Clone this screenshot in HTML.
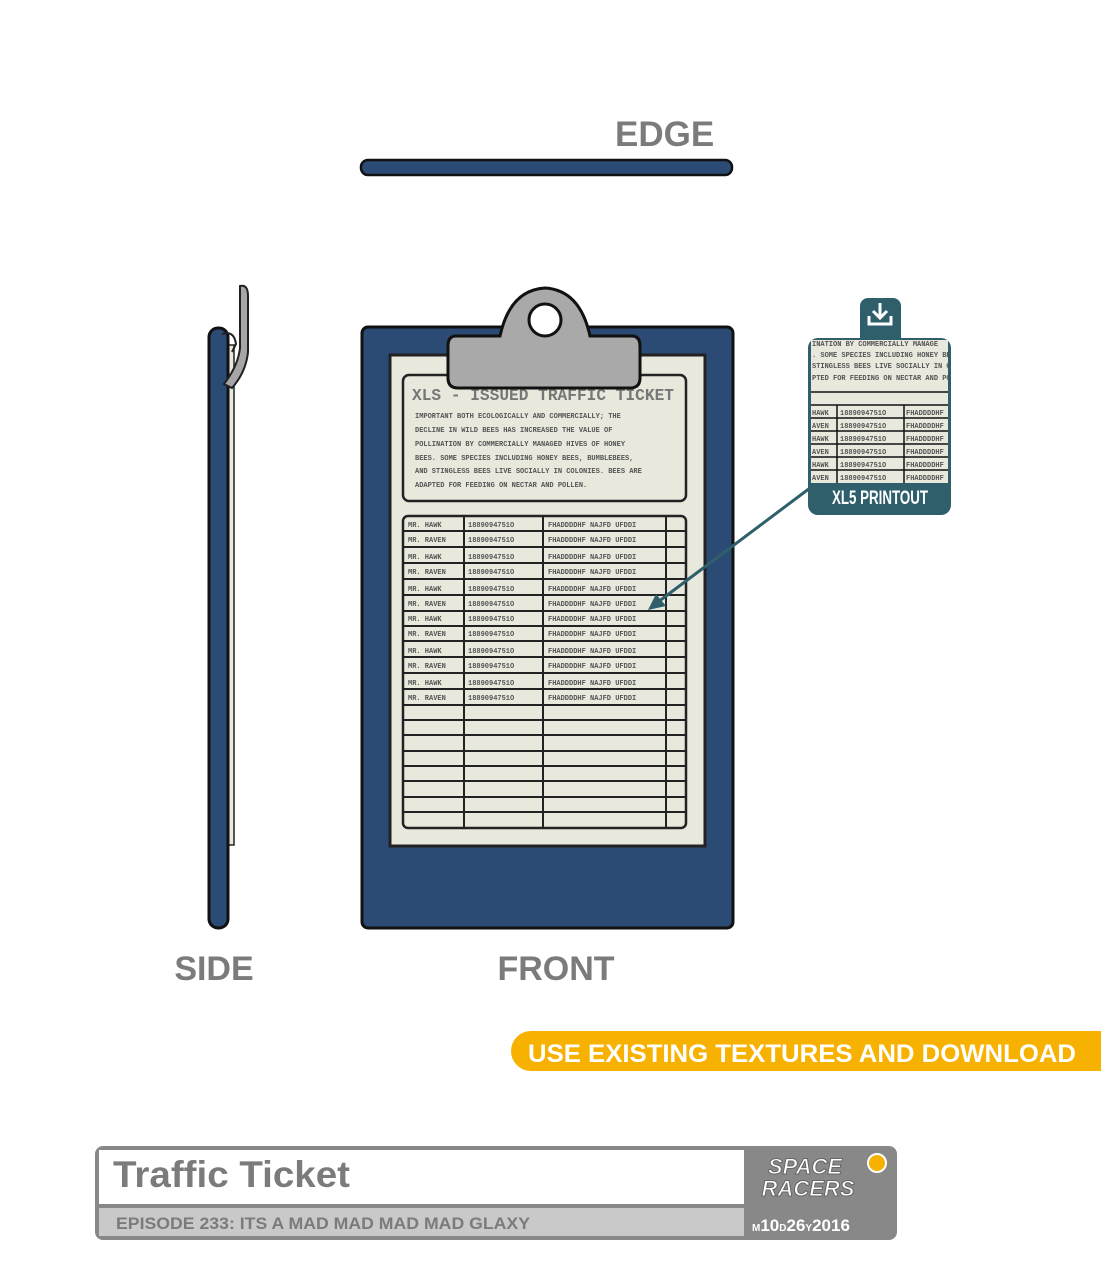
<!DOCTYPE html>
<html><head><meta charset="utf-8"><style>
body{margin:0;background:#fff;width:1101px;height:1277px;overflow:hidden}
svg{display:block}
.g{font-family:"Liberation Sans",sans-serif;font-weight:bold;fill:#7b7b7b}
.m{font-family:"Liberation Mono",monospace;font-weight:bold;fill:#555;font-size:7px}
</style></head><body>
<svg width="1101" height="1277" viewBox="0 0 1101 1277" xmlns="http://www.w3.org/2000/svg">
<defs><clipPath id="cp"><rect x="811" y="340" width="137" height="143"/></clipPath></defs>
<text x="615" y="146" class="g" font-size="35">EDGE</text>
<rect x="361" y="160" width="371" height="15" rx="7" fill="#2b4a74" stroke="#111" stroke-width="2.5"/>

<!-- side -->
<rect x="227" y="345" width="7" height="500" fill="#e8e8dd" stroke="#222" stroke-width="1.5"/>
<rect x="209" y="328" width="19" height="600" rx="9" fill="#2b4a74" stroke="#111" stroke-width="3"/>
<path d="M240 286 Q248 284 248 296 L248 352 Q246 372 232 388 L224 384 Q238 366 240 348 Z" fill="#a6a6a6" stroke="#222" stroke-width="2"/>
<path d="M222 334 Q234 330 236 344 L232 352" fill="none" stroke="#222" stroke-width="2"/>

<!-- front -->
<rect x="362" y="327" width="371" height="601" rx="6" fill="#2b4a74" stroke="#111" stroke-width="3"/>
<rect x="390" y="355" width="315" height="491" fill="#e8e8dd" stroke="#222" stroke-width="3"/>
<rect x="403" y="375" width="283" height="126" rx="6" fill="#e8e8dd" stroke="#222" stroke-width="2.5"/>
<text x="412" y="400" font-family="Liberation Mono,monospace" font-weight="bold" font-size="17" fill="#777" textLength="262" lengthAdjust="spacingAndGlyphs">XLS - ISSUED TRAFFIC TICKET</text>
<g class="m">
<text x="415" y="418">IMPORTANT BOTH ECOLOGICALLY AND COMMERCIALLY; THE</text>
<text x="415" y="432">DECLINE IN WILD BEES HAS INCREASED THE VALUE OF</text>
<text x="415" y="446">POLLINATION BY COMMERCIALLY MANAGED HIVES OF HONEY</text>
<text x="415" y="460">BEES. SOME SPECIES INCLUDING HONEY BEES, BUMBLEBEES,</text>
<text x="415" y="473">AND STINGLESS BEES LIVE SOCIALLY IN COLONIES. BEES ARE</text>
<text x="415" y="487">ADAPTED FOR FEEDING ON NECTAR AND POLLEN.</text>
</g>
<rect x="403" y="516" width="283" height="312" rx="5" fill="#e8e8dd" stroke="#222" stroke-width="2.5"/>
<g stroke="#222" stroke-width="2">
<line x1="464" y1="516" x2="464" y2="828"/><line x1="543" y1="516" x2="543" y2="828"/><line x1="666" y1="516" x2="666" y2="828"/>
<line x1="403" y1="531" x2="686" y2="531"/><line x1="403" y1="547" x2="686" y2="547"/><line x1="403" y1="563" x2="686" y2="563"/><line x1="403" y1="579" x2="686" y2="579"/><line x1="403" y1="595" x2="686" y2="595"/><line x1="403" y1="611" x2="686" y2="611"/><line x1="403" y1="626" x2="686" y2="626"/><line x1="403" y1="641" x2="686" y2="641"/><line x1="403" y1="657" x2="686" y2="657"/><line x1="403" y1="673" x2="686" y2="673"/><line x1="403" y1="689" x2="686" y2="689"/><line x1="403" y1="705" x2="686" y2="705"/><line x1="403" y1="720" x2="686" y2="720"/><line x1="403" y1="735" x2="686" y2="735"/><line x1="403" y1="751" x2="686" y2="751"/><line x1="403" y1="766" x2="686" y2="766"/><line x1="403" y1="781" x2="686" y2="781"/><line x1="403" y1="797" x2="686" y2="797"/><line x1="403" y1="812" x2="686" y2="812"/>
</g>
<g class="m">
<text x="408" y="527">MR. HAWK</text><text x="468" y="527">1889094751O</text><text x="548" y="527">FHADDDDHF NAJFD UFDDI</text>
<text x="408" y="542">MR. RAVEN</text><text x="468" y="542">1889094751O</text><text x="548" y="542">FHADDDDHF NAJFD UFDDI</text>
<text x="408" y="559">MR. HAWK</text><text x="468" y="559">1889094751O</text><text x="548" y="559">FHADDDDHF NAJFD UFDDI</text>
<text x="408" y="574">MR. RAVEN</text><text x="468" y="574">1889094751O</text><text x="548" y="574">FHADDDDHF NAJFD UFDDI</text>
<text x="408" y="591">MR. HAWK</text><text x="468" y="591">1889094751O</text><text x="548" y="591">FHADDDDHF NAJFD UFDDI</text>
<text x="408" y="606">MR. RAVEN</text><text x="468" y="606">1889094751O</text><text x="548" y="606">FHADDDDHF NAJFD UFDDI</text>
<text x="408" y="621">MR. HAWK</text><text x="468" y="621">1889094751O</text><text x="548" y="621">FHADDDDHF NAJFD UFDDI</text>
<text x="408" y="636">MR. RAVEN</text><text x="468" y="636">1889094751O</text><text x="548" y="636">FHADDDDHF NAJFD UFDDI</text>
<text x="408" y="653">MR. HAWK</text><text x="468" y="653">1889094751O</text><text x="548" y="653">FHADDDDHF NAJFD UFDDI</text>
<text x="408" y="668">MR. RAVEN</text><text x="468" y="668">1889094751O</text><text x="548" y="668">FHADDDDHF NAJFD UFDDI</text>
<text x="408" y="685">MR. HAWK</text><text x="468" y="685">1889094751O</text><text x="548" y="685">FHADDDDHF NAJFD UFDDI</text>
<text x="408" y="700">MR. RAVEN</text><text x="468" y="700">1889094751O</text><text x="548" y="700">FHADDDDHF NAJFD UFDDI</text>
</g>
<!-- clip -->
<path d="M456 336 L500 336 Q510 290 545 288 Q580 290 590 336 L632 336 Q640 336 640 346 L640 378 Q640 388 630 388 L458 388 Q448 388 448 378 L448 346 Q448 336 456 336 Z" fill="#a9a9a9" stroke="#111" stroke-width="3"/>
<circle cx="545" cy="320" r="16" fill="#fff" stroke="#111" stroke-width="3"/>

<!-- arrow -->
<line x1="810" y1="488" x2="658" y2="602" stroke="#2e5f6b" stroke-width="3"/>
<polygon points="648,610 656,594 666,606" fill="#2e5f6b"/>

<!-- callout -->
<rect x="860" y="298" width="41" height="50" rx="8" fill="#2e5f6b"/>
<path d="M880 303 L880 318 M873 311 L880 318 L887 311 M869 316 L869 324 L891 324 L891 316" fill="none" stroke="#fff" stroke-width="3"/>
<rect x="808" y="338" width="143" height="177" rx="10" fill="#2e5f6b"/>
<rect x="811" y="340" width="137" height="143" fill="#e8e8dd"/>
<g class="m" font-size="6" clip-path="url(#cp)">
<text x="812" y="346">INATION BY COMMERCIALLY MANAGE</text>
<text x="812" y="357">. SOME SPECIES INCLUDING HONEY BEE</text>
<text x="812" y="368">STINGLESS BEES LIVE SOCIALLY IN COL</text>
<text x="812" y="380">PTED FOR FEEDING ON NECTAR AND POLLE</text>
<text x="812" y="415">HAWK</text><text x="840" y="415">1889094751O</text><text x="906" y="415">FHADDDDHF</text>
<text x="812" y="428">AVEN</text><text x="840" y="428">1889094751O</text><text x="906" y="428">FHADDDDHF</text>
<text x="812" y="441">HAWK</text><text x="840" y="441">1889094751O</text><text x="906" y="441">FHADDDDHF</text>
<text x="812" y="454">AVEN</text><text x="840" y="454">1889094751O</text><text x="906" y="454">FHADDDDHF</text>
<text x="812" y="467">HAWK</text><text x="840" y="467">1889094751O</text><text x="906" y="467">FHADDDDHF</text>
<text x="812" y="480">AVEN</text><text x="840" y="480">1889094751O</text><text x="906" y="480">FHADDDDHF</text>
</g>
<g stroke="#111" stroke-width="1.5">
<line x1="811" y1="392" x2="948" y2="392"/><line x1="811" y1="405" x2="948" y2="405"/><line x1="811" y1="418" x2="948" y2="418"/><line x1="811" y1="431" x2="948" y2="431"/><line x1="811" y1="444" x2="948" y2="444"/><line x1="811" y1="457" x2="948" y2="457"/><line x1="811" y1="470" x2="948" y2="470"/>
<line x1="837" y1="405" x2="837" y2="483"/><line x1="904" y1="405" x2="904" y2="483"/>
</g>
<text x="880" y="504" text-anchor="middle" font-family="Liberation Sans Narrow,Liberation Sans,sans-serif" font-weight="bold" font-size="19" fill="#fff" textLength="96" lengthAdjust="spacingAndGlyphs">XL5 PRINTOUT</text>

<text x="214" y="980" text-anchor="middle" class="g" font-size="34">SIDE</text>
<text x="556" y="980" text-anchor="middle" class="g" font-size="34">FRONT</text>

<rect x="511" y="1031" width="620" height="40" rx="20" fill="#f7b100"/>
<text x="528" y="1062" font-family="Liberation Sans,sans-serif" font-weight="bold" font-size="25" fill="#fff" textLength="548" lengthAdjust="spacingAndGlyphs">USE EXISTING TEXTURES AND DOWNLOAD</text>

<!-- footer -->
<rect x="95" y="1146" width="802" height="94" rx="8" fill="#888"/>
<rect x="99" y="1150" width="645" height="54" fill="#fff"/>
<rect x="99" y="1208" width="645" height="28" fill="#c9c9c9"/>
<text x="113" y="1187" class="g" font-size="37" fill="#777" textLength="237" lengthAdjust="spacingAndGlyphs">Traffic Ticket</text>
<text x="116" y="1229" class="g" font-size="17" textLength="414" lengthAdjust="spacingAndGlyphs">EPISODE 233: ITS A MAD MAD MAD MAD GLAXY</text>
<text x="805" y="1174" text-anchor="middle" font-family="Liberation Sans,sans-serif" font-weight="bold" font-style="italic" font-size="22" fill="#fff" stroke="#666" stroke-width="1">SPACE</text>
<text x="808" y="1196" text-anchor="middle" font-family="Liberation Sans,sans-serif" font-weight="bold" font-style="italic" font-size="22" fill="#fff" stroke="#666" stroke-width="1">RACERS</text>
<circle cx="877" cy="1163" r="9" fill="#f7b100" stroke="#fff" stroke-width="2"/>
<text x="752" y="1231" font-family="Liberation Sans,sans-serif" font-weight="bold" font-size="17" fill="#fff"><tspan font-size="10">M</tspan>10<tspan font-size="10">D</tspan>26<tspan font-size="10">Y</tspan>2016</text>
</svg>
</body></html>
